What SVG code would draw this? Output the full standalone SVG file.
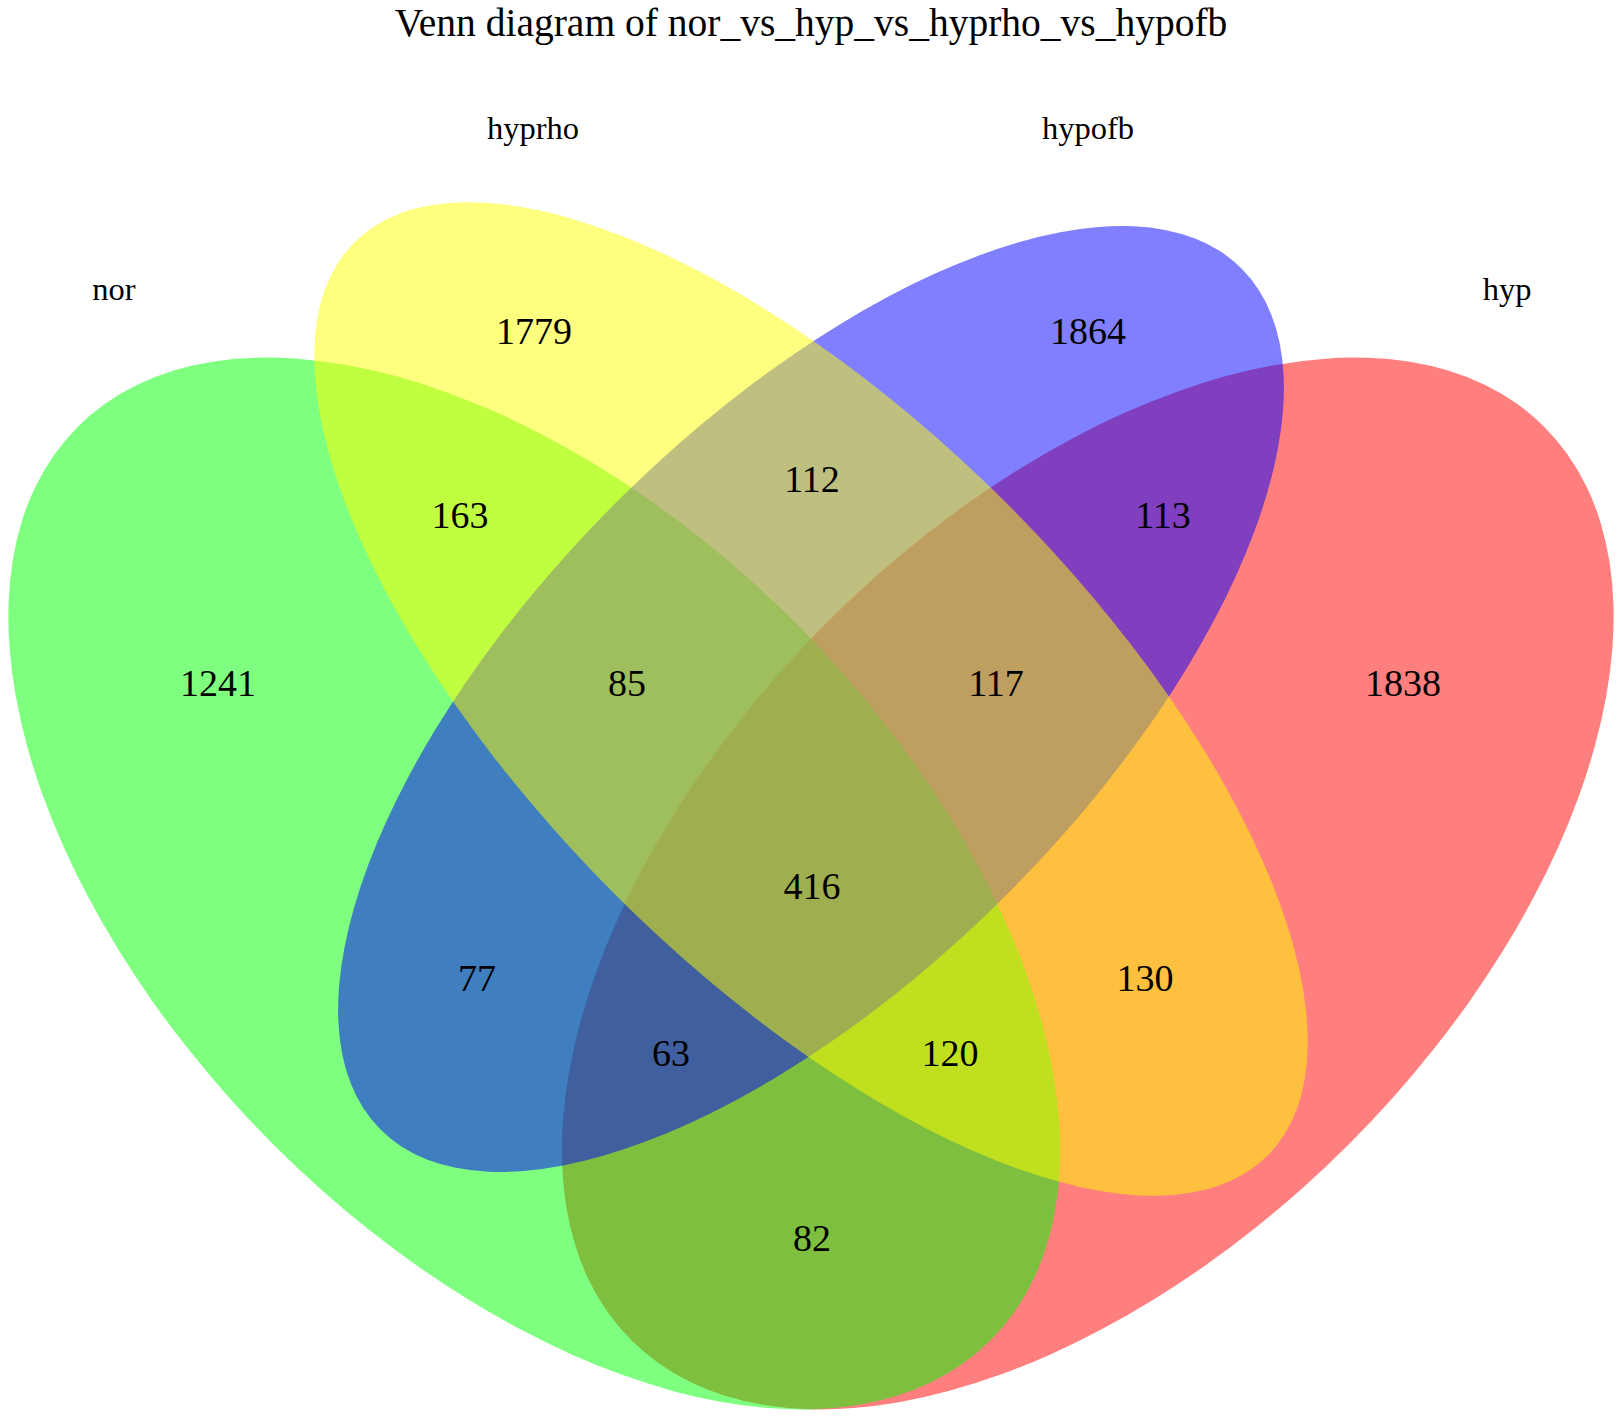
<svg xmlns="http://www.w3.org/2000/svg" width="1622" height="1418" viewBox="0 0 1622 1418">
<style>
.set{fill-opacity:0.5;stroke:none}
text{font-family:"Liberation Serif","Times New Roman",serif;fill:#000;text-anchor:middle}
.num{font-size:38px}
.lab{font-size:32.5px}
.title{font-size:39.5px}
</style>
<rect width="1622" height="1418" fill="#ffffff"/>
<g id="sets">
<g id="hyp"><ellipse class="set" cx="1087.75" cy="883.5" rx="645.75" ry="369" fill="#ff0000" transform="rotate(-45 1087.75 883.5)"/></g>
<g id="nor"><ellipse class="set" cx="534.25" cy="883.5" rx="645.75" ry="369" fill="#00ff00" transform="rotate(45 534.25 883.5)"/></g>
<g id="hypofb"><ellipse class="set" cx="811" cy="699" rx="608.85" ry="276.75" fill="#0000ff" transform="rotate(-45 811 699)"/></g>
<g id="hyprho"><ellipse class="set" cx="811" cy="699" rx="645.75" ry="276.75" fill="#ffff00" transform="rotate(45 811 699)"/></g>
</g>
<g id="connectors"></g>
<text class="title" x="811" y="36">Venn diagram of nor_vs_hyp_vs_hyprho_vs_hypofb</text>
<g id="labels">
<text class="lab" x="114" y="300">nor</text>
<text class="lab" x="533" y="139">hyprho</text>
<text class="lab" x="1088" y="139">hypofb</text>
<text class="lab" x="1507" y="300">hyp</text>
</g>
<g id="counts">
<text class="num" x="534" y="344">1779</text>
<text class="num" x="1088" y="344">1864</text>
<text class="num" x="812" y="492">112</text>
<text class="num" x="460" y="528">163</text>
<text class="num" x="1163" y="528">113</text>
<text class="num" x="218" y="696">1241</text>
<text class="num" x="627" y="696">85</text>
<text class="num" x="996" y="696">117</text>
<text class="num" x="1403" y="696">1838</text>
<text class="num" x="812" y="899">416</text>
<text class="num" x="477" y="991">77</text>
<text class="num" x="1145" y="991">130</text>
<text class="num" x="671" y="1066">63</text>
<text class="num" x="950" y="1066">120</text>
<text class="num" x="812" y="1251">82</text>
</g>
</svg>
